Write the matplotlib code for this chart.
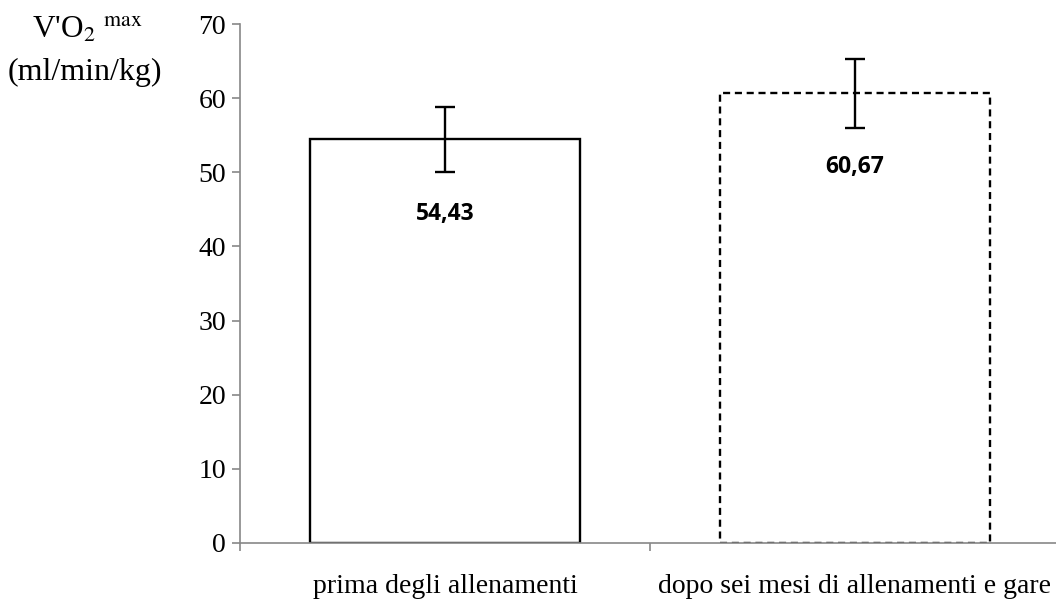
import matplotlib
matplotlib.use("Agg")
import matplotlib.pyplot as plt
from matplotlib.ticker import FixedLocator

categories = ["prima degli allenamenti", "dopo sei mesi di allenamenti e gare"]
values = [54.43, 60.67]
errors = [4.35, 4.65]
value_labels = ["54,43", "60,67"]
linestyles = ["solid", (0, (3, 2))]

fig = plt.figure(figsize=(10.56, 6), dpi=100)
ax = fig.add_axes([240/1056, 1-543/600, 820/1056, (543-24)/600])

x = list(range(len(categories)))
for i, (v, e, ls) in enumerate(zip(values, errors, linestyles)):
    ax.bar(i, v, width=0.66, facecolor="white", edgecolor="black",
           linewidth=1.7, linestyle=ls, zorder=2)
    ax.errorbar(i, v, yerr=e, fmt="none", ecolor="black", elinewidth=1.7,
                capsize=7, capthick=1.7, zorder=3)
    ax.text(i, v - 10, value_labels[i], ha="center", va="center",
            fontsize=16.5, fontweight="bold", family="Open Sans", zorder=4)

ax.set_xlim(-0.5, len(categories) - 0.5)
ax.set_ylim(0, 70)
ax.set_yticks(range(0, 71, 10))
ax.set_xticks(x)
ax.set_xticklabels(categories)
ax.xaxis.set_minor_locator(FixedLocator([-0.5 + k for k in range(len(categories) + 1)]))
ax.tick_params(axis="x", which="major", length=0, pad=22)
ax.tick_params(axis="x", which="minor", length=6, color="#888888", width=1.2)
ax.tick_params(axis="y", length=6, color="#888888", width=1.2, pad=4)
for lab in ax.get_xticklabels() + ax.get_yticklabels():
    lab.set_family("Liberation Serif")
    lab.set_fontsize(20)

for s in ["top", "right"]:
    ax.spines[s].set_visible(False)
for s in ["left", "bottom"]:
    ax.spines[s].set_color("#888888")
    ax.spines[s].set_linewidth(1.2)

fig.text(88/1056, 1-30/600, "V'O$_2$ $^{\\mathrm{max}}$", ha="center", va="center",
         fontsize=22.5, family="Liberation Serif", math_fontfamily="stix")
fig.text(85/1056, 1-72/600, "(ml/min/kg)", ha="center", va="center",
         fontsize=23, family="Liberation Serif")

fig.savefig("out.png", dpi=100)
